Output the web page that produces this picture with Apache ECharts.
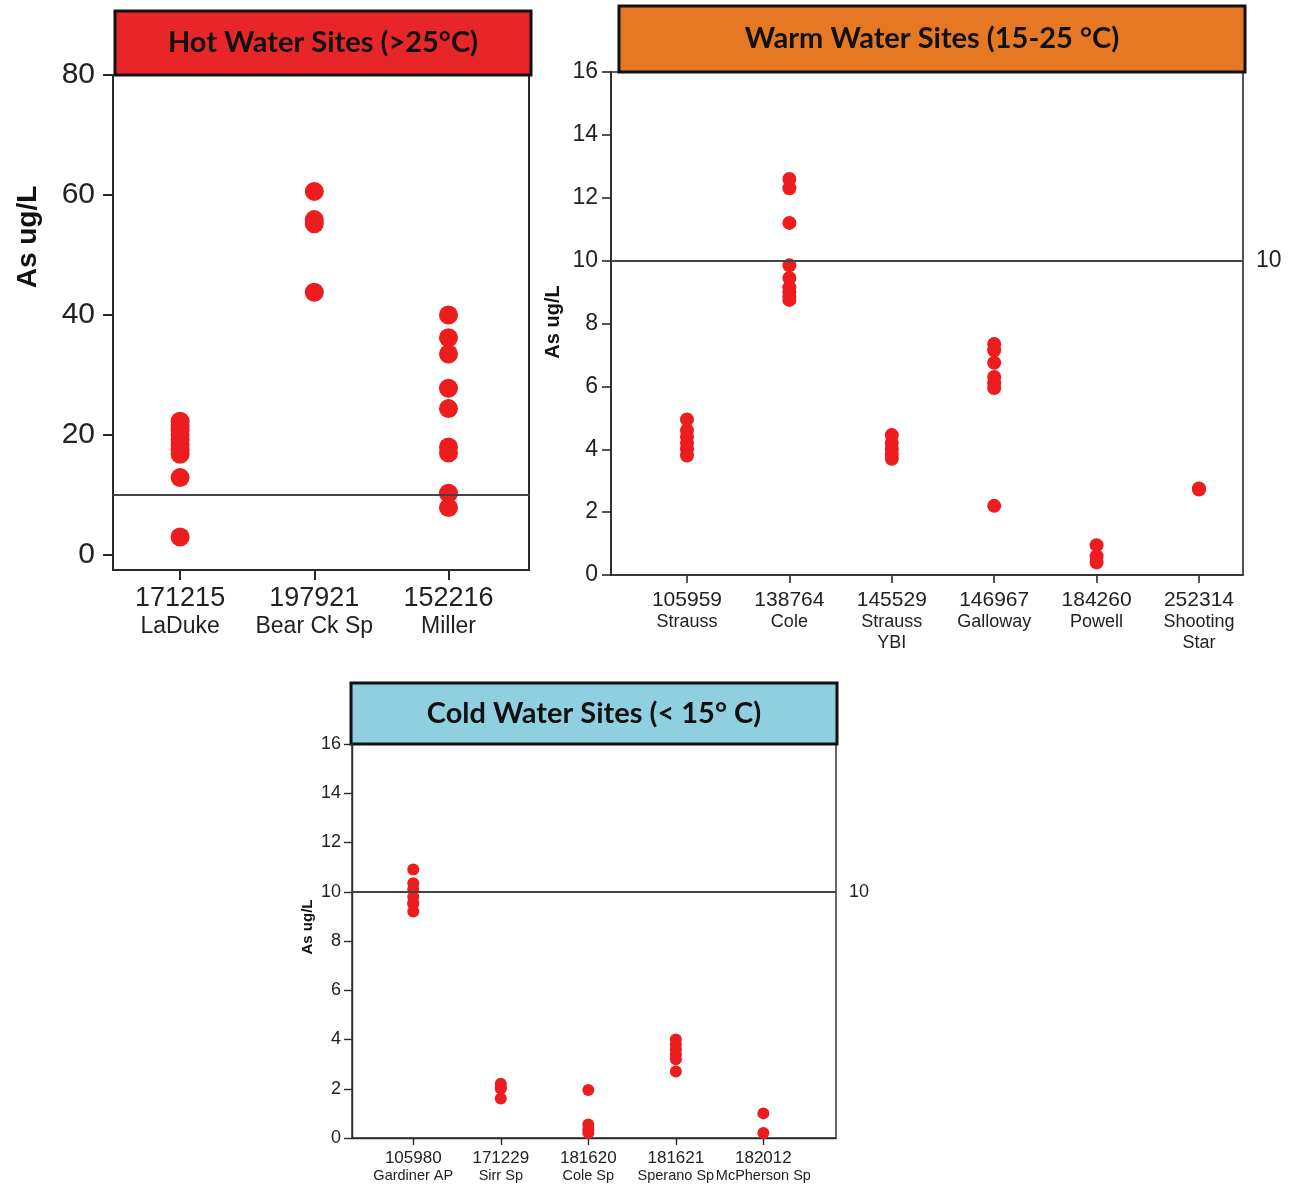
<!DOCTYPE html>
<html>
<head>
<meta charset="utf-8">
<script src="https://cdn.jsdelivr.net/npm/echarts@6/dist/echarts.min.js"></script>
<style>
  html, body { margin: 0; padding: 0; background: #ffffff; }
  #chart { width: 1296px; height: 1189px; }
</style>
</head>
<body>
<div id="chart"></div>
<script>
// Arsenic (As, ug/L) measured at thermal spring sites, grouped by water temperature.
const limitValue = 10;

// Hot water sites (>25 °C)
const hotIds = ['171215', '197921', '152216'];
const hotNames = ['LaDuke', 'Bear Ck Sp', 'Miller'];
const hotValues = [
  [22.3, 21.6, 20.8, 20.0, 19.2, 18.4, 17.6, 16.8, 12.9, 3.0],
  [60.6, 55.9, 55.2, 43.8],
  [40.0, 36.2, 33.5, 27.8, 24.4, 18.0, 17.0, 10.3, 7.9]
];
const hotTicks = [0, 20, 40, 60, 80];

// Warm water sites (15-25 °C)
const warmIds = ['105959', '138764', '145529', '146967', '184260', '252314'];
const warmNames = ['Strauss', 'Cole', 'Strauss\nYBI', 'Galloway', 'Powell', 'Shooting\nStar'];
const warmValues = [
  [4.95, 4.6, 4.4, 4.2, 4.0, 3.8],
  [12.6, 12.3, 11.2, 9.85, 9.45, 9.15, 9.0, 8.85, 8.75],
  [4.45, 4.2, 4.0, 3.85, 3.7],
  [7.35, 7.15, 6.75, 6.3, 6.1, 5.95, 2.2],
  [0.95, 0.6, 0.4],
  [2.75, 2.72]
];
const warmTicks = [0, 2, 4, 6, 8, 10, 12, 14, 16];

// Cold water sites (< 15 °C)
const coldIds = ['105980', '171229', '181620', '181621', '182012'];
const coldNames = ['Gardiner AP', 'Sirr Sp', 'Cole Sp', 'Sperano Sp', 'McPherson Sp'];
const coldValues = [
  [10.9, 10.35, 10.1, 9.8, 9.55, 9.5, 9.2],
  [2.2, 2.05, 2.0, 1.6],
  [1.95, 0.55, 0.35, 0.2],
  [4.0, 3.8, 3.6, 3.4, 3.2, 2.7],
  [1.0, 0.2]
];
const coldTicks = [0, 2, 4, 6, 8, 10, 12, 14, 16];

const FONT = '"Liberation Sans", Arial, sans-serif';
const TITLE_FONT = 'Lato, "Open Sans", sans-serif';
const DOT = '#ec1c1f';
const INK = '#222222';

function toPoints(values) {
  const out = [];
  values.forEach((arr, i) => arr.forEach(v => out.push([i, v])));
  return out;
}

function siteLabel(ids, names) {
  return function (v) {
    const i = Math.round(v);
    const lines = ['{a|' + ids[i] + '}'];
    names[i].split('\n').forEach(n => lines.push('{b|' + n + '}'));
    return lines.join('\n');
  };
}

function xAxisFor(grid, ids, names, min, max, sizes) {
  const idx = ids.map((_, i) => i);
  return {
    type: 'value', gridIndex: grid, min: min, max: max,
    splitLine: { show: false },
    axisLine: { show: true, onZero: false, lineStyle: { color: '#2a2a2a', width: sizes.line } },
    axisTick: { show: true, customValues: idx, length: sizes.tick, lineStyle: { color: '#2a2a2a', width: sizes.line } },
    axisLabel: {
      customValues: idx, margin: sizes.margin, color: INK, fontFamily: FONT,
      formatter: siteLabel(ids, names),
      rich: {
        a: { fontSize: sizes.idFont, fontFamily: FONT, color: INK, lineHeight: sizes.idLH },
        b: { fontSize: sizes.nameFont, fontFamily: FONT, color: INK, lineHeight: sizes.nameLH }
      }
    }
  };
}

function yAxisFor(grid, ticks, min, max, sizes) {
  return {
    type: 'value', gridIndex: grid, min: min, max: max,
    splitLine: { show: false },
    axisLine: { show: true, onZero: false, lineStyle: { color: '#2a2a2a', width: sizes.line } },
    axisTick: { show: true, customValues: ticks, length: sizes.tick, lineStyle: { color: '#2a2a2a', width: sizes.line } },
    axisLabel: { customValues: ticks, margin: sizes.margin, color: INK, fontFamily: FONT, fontSize: sizes.font }
  };
}

function limitSeries(grid, labelSize, showLabel) {
  return {
    type: 'scatter', xAxisIndex: grid, yAxisIndex: grid, data: [], z: 1,
    markLine: {
      silent: true, symbol: 'none', animation: false,
      lineStyle: { color: '#444444', width: 1.8, type: 'solid' },
      label: {
        show: showLabel, position: 'end', distance: 13,
        formatter: String(limitValue), color: INK, fontFamily: FONT, fontSize: labelSize
      },
      data: [{ yAxis: limitValue }]
    }
  };
}

function dotSeries(grid, values, size) {
  return {
    type: 'scatter', xAxisIndex: grid, yAxisIndex: grid, z: 3,
    symbol: 'circle', symbolSize: size,
    itemStyle: { color: DOT, opacity: 1 },
    data: toPoints(values)
  };
}

function titleBox(x, y, w, h, fill, text, size) {
  return {
    type: 'group', z: 100,
    children: [
      { type: 'rect', shape: { x: x, y: y, width: w, height: h },
        style: { fill: fill, stroke: '#111111', lineWidth: 3 } },
      { type: 'text', x: x + w / 2, y: y + h / 2,
        style: { text: text, fill: '#111111', font: 'bold ' + size + 'px ' + TITLE_FONT,
                 align: 'center', verticalAlign: 'middle' } }
    ]
  };
}

function axisTitle(x, y, size) {
  return {
    type: 'text', x: x, y: y, rotation: Math.PI / 2, z: 50,
    style: { text: 'As ug/L', fill: '#111111', font: 'bold ' + size + 'px ' + FONT,
             align: 'center', verticalAlign: 'middle' }
  };
}

const chart = echarts.init(document.getElementById('chart'), null, { renderer: 'canvas' });

chart.setOption({
  animation: false,
  backgroundColor: '#ffffff',
  grid: [
    { left: 113, top: 75, width: 416, height: 495, show: true, borderColor: '#2a2a2a', borderWidth: 2, backgroundColor: 'transparent' },
    { left: 611, top: 72, width: 632, height: 503, show: true, borderColor: '#2a2a2a', borderWidth: 1.6, backgroundColor: 'transparent' },
    { left: 352, top: 744, width: 484, height: 394, show: true, borderColor: '#2a2a2a', borderWidth: 1.4, backgroundColor: 'transparent' }
  ],
  xAxis: [
    xAxisFor(0, hotIds, hotNames, -0.5, 2.6,
      { line: 2, tick: 10, margin: 14, idFont: 27, idLH: 30, nameFont: 23, nameLH: 25 }),
    xAxisFor(1, warmIds, warmNames, -0.742, 5.43,
      { line: 1.6, tick: 8, margin: 14, idFont: 21, idLH: 23, nameFont: 18, nameLH: 21 }),
    xAxisFor(2, coldIds, coldNames, -0.70, 4.83,
      { line: 1.4, tick: 7, margin: 11, idFont: 17, idLH: 18, nameFont: 14.5, nameLH: 17 })
  ],
  yAxis: [
    yAxisFor(0, hotTicks, -2.5, 80, { line: 2, tick: 10, margin: 18, font: 30 }),
    yAxisFor(1, warmTicks, 0, 16, { line: 1.6, tick: 9, margin: 13, font: 23 }),
    yAxisFor(2, coldTicks, 0, 16, { line: 1.4, tick: 8, margin: 11, font: 18 })
  ],
  series: [
    limitSeries(0, 22, false),
    dotSeries(0, hotValues, 19),
    limitSeries(1, 23, true),
    dotSeries(1, warmValues, 14),
    limitSeries(2, 18, true),
    dotSeries(2, coldValues, 12)
  ],
  graphic: [
    titleBox(115, 11, 416, 64, '#e8262a', 'Hot Water Sites (>25°C)', 29),
    titleBox(619, 6, 626, 66, '#e67824', 'Warm Water Sites (15-25 °C)', 29),
    titleBox(351, 683, 486, 61, '#8fcfdf', 'Cold Water Sites (< 15° C)', 29),
    axisTitle(28, 237, 28),
    axisTitle(553, 322, 20),
    axisTitle(308, 927, 15)
  ]
});
</script>
</body>
</html>
